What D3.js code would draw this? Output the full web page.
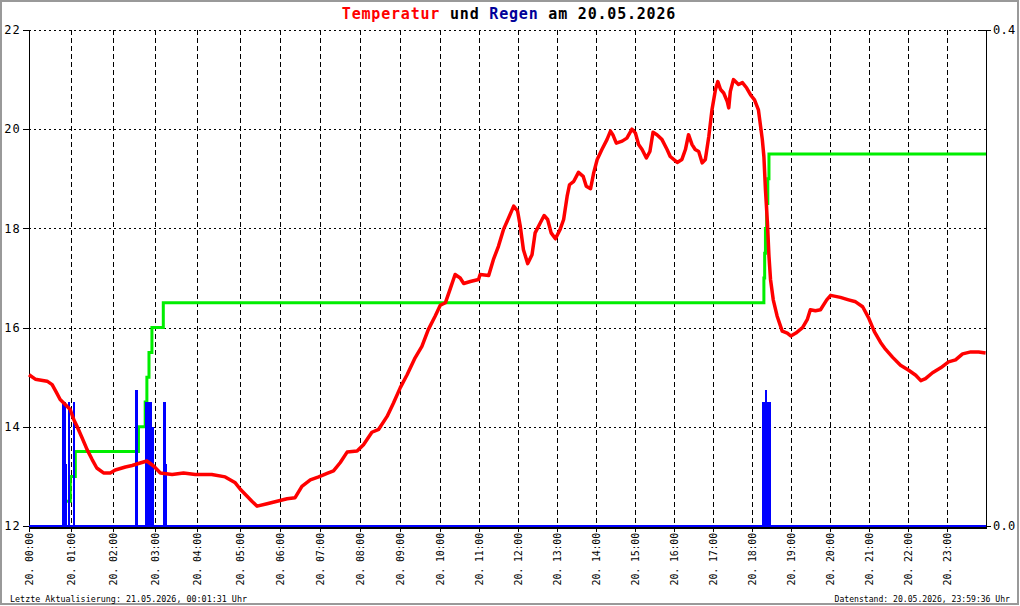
<!DOCTYPE html>
<html>
<head>
<meta charset="utf-8">
<script src="https://cdn.jsdelivr.net/npm/d3@7"></script>
<style>
  body { margin: 0; background: #fff; }
  svg { display: block; }
  text { font-family: "DejaVu Sans Mono", "Liberation Mono", monospace; fill: #000; }
</style>
</head>
<body>
<svg id="chart" width="1020" height="606"></svg>
<script>
// ---- data (hours since 00:00, °C / mm) ----
var tempHours = [0.00,0.15,0.43,0.55,0.66,0.74,0.86,0.98,1.06,1.14,1.26,1.38,1.50,1.61,1.77,1.93,2.05,2.29,2.45,2.60,
  2.80,2.96,3.12,3.40,3.67,3.95,4.34,4.66,4.90,5.02,5.19,5.31,5.44,5.69,5.94,6.19,6.39,6.56,6.77,6.98,
  7.19,7.35,7.52,7.69,7.94,8.10,8.31,8.48,8.69,8.85,9.02,9.19,9.39,9.56,9.72,9.89,10.02,10.15,10.27,10.40,
  10.53,10.62,10.79,11.00,11.04,11.26,11.38,11.51,11.64,11.77,11.90,12.00,12.07,12.15,12.26,12.37,12.45,12.58,12.68,12.77,
  12.86,12.97,13.09,13.18,13.27,13.33,13.44,13.56,13.68,13.76,13.87,13.95,14.04,14.16,14.29,14.38,14.44,14.53,14.68,14.80,
  14.93,15.02,15.10,15.19,15.30,15.39,15.47,15.57,15.70,15.83,15.91,16.09,16.21,16.30,16.38,16.47,16.55,16.64,16.73,16.81,
  16.90,16.98,17.07,17.13,17.20,17.28,17.37,17.41,17.45,17.53,17.66,17.76,17.87,17.97,18.07,18.17,18.27,18.31,18.35,18.40,
  18.44,18.48,18.55,18.65,18.78,18.91,19.00,19.13,19.30,19.42,19.50,19.63,19.76,19.92,20.02,20.27,20.48,20.66,20.84,20.99,
  21.14,21.30,21.43,21.61,21.81,22.02,22.20,22.33,22.45,22.63,22.84,23.04,23.22,23.40,23.61,23.81,23.99];
var tempValues = [15.05,14.96,14.92,14.85,14.68,14.55,14.45,14.35,14.15,14.01,13.78,13.54,13.34,13.17,13.07,13.07,13.13,13.19,13.22,13.26,
  13.31,13.21,13.07,13.04,13.07,13.04,13.04,12.99,12.87,12.74,12.60,12.50,12.40,12.45,12.50,12.55,12.57,12.80,12.93,12.99,
  13.06,13.11,13.28,13.49,13.51,13.64,13.89,13.95,14.21,14.48,14.79,15.05,15.39,15.62,15.96,16.23,16.45,16.50,16.77,17.07,
  17.00,16.89,16.93,16.97,17.07,17.05,17.37,17.64,17.98,18.21,18.45,18.35,18.04,17.57,17.29,17.47,17.91,18.11,18.26,18.18,
  17.91,17.79,17.98,18.18,18.65,18.88,18.95,19.13,19.05,18.85,18.80,19.12,19.39,19.59,19.79,19.96,19.89,19.72,19.76,19.82,
  20.00,19.92,19.69,19.59,19.42,19.55,19.94,19.89,19.79,19.59,19.45,19.33,19.39,19.59,19.89,19.69,19.59,19.55,19.32,19.39,
  19.86,20.39,20.80,20.96,20.80,20.73,20.56,20.43,20.76,21.00,20.90,20.94,20.83,20.69,20.59,20.39,19.79,19.45,18.78,18.12,
  17.44,16.97,16.56,16.23,15.93,15.89,15.83,15.89,16.00,16.16,16.36,16.34,16.36,16.56,16.65,16.61,16.56,16.52,16.42,16.20,
  15.92,15.70,15.56,15.40,15.24,15.14,15.04,14.93,14.97,15.09,15.19,15.31,15.35,15.47,15.51,15.51,15.49];

// cumulative rain (step line)
var rainSumHours  = [0, 0.86, 0.98, 1.10, 2.60, 2.76, 2.80, 2.85, 2.92, 3.19, 18.31, 18.33, 18.35, 18.38, 18.41, 18.44, 24];
var rainSumValues = [0, 0.02, 0.04, 0.06, 0.08, 0.10, 0.12, 0.14, 0.16, 0.18, 0.20, 0.22, 0.24, 0.26, 0.28, 0.30, 0.30];

// rain bars: start hour, end hour, value
var rainBarStart  = [0.79, 0.88, 0.92, 1.035, 2.52, 2.76, 2.92, 3.19, 3.25, 18.27, 18.33, 18.40];
var rainBarEnd    = [0.88, 0.91, 0.98, 1.10, 2.60, 2.92, 2.98, 3.25, 3.27, 18.33, 18.40, 18.48];
var rainBarValues = [0.10, 0.05, 0.10, 0.10, 0.11, 0.10, 0.08, 0.10, 0.05, 0.10, 0.11, 0.10];

var tempTicks = [12, 14, 16, 18, 20, 22];
var rainTicks = [0.0, 0.4];
var rainTickLabels = ["0.0", "0.4"];
var hourLabels = ["20. 00:00","20. 01:00","20. 02:00","20. 03:00","20. 04:00","20. 05:00","20. 06:00","20. 07:00",
  "20. 08:00","20. 09:00","20. 10:00","20. 11:00","20. 12:00","20. 13:00","20. 14:00","20. 15:00",
  "20. 16:00","20. 17:00","20. 18:00","20. 19:00","20. 20:00","20. 21:00","20. 22:00","20. 23:00"];

(function () {
  "use strict";
  var svg = d3.select("#chart");
  var L = 29, R = 986, T = 30, B = 526;

  // the time axis of the source is not evenly spaced: early hours are a little wider
  var x = d3.scaleLinear().domain([0, 5, 10, 24]).range([L, 239.5, 439.5, R]);
  var yT = d3.scaleLinear().domain([12, 22]).range([B, T]);
  var yR = d3.scaleLinear().domain([0, 0.4]).range([B, T]);

  svg.append("rect").attr("x", 0).attr("y", 0).attr("width", 1020).attr("height", 606).attr("fill", "#fff");
  svg.append("rect").attr("x", 1).attr("y", 1).attr("width", 1017).attr("height", 603)
    .attr("fill", "none").attr("stroke", "#999").attr("stroke-width", 2);

  // the zero level of the rain sum sits behind the axis in the source
  svg.append("defs").append("clipPath").attr("id", "above-axis")
    .append("rect").attr("x", L).attr("y", T - 5).attr("width", R - L).attr("height", B - 2 - (T - 5));

  /* grid */
  var grid = svg.append("g").attr("shape-rendering", "crispEdges").attr("stroke", "#000").attr("stroke-width", 1);
  grid.selectAll("line.h").data(tempTicks.filter(function (t) { return t > 12; }))
    .enter().append("line").attr("class", "h")
    .attr("x1", L).attr("x2", R)
    .attr("y1", function (d) { return Math.round(yT(d)) + 0.5; })
    .attr("y2", function (d) { return Math.round(yT(d)) + 0.5; })
    .attr("stroke-dasharray", "2,3");
  grid.selectAll("line.v").data(d3.range(1, 24))
    .enter().append("line").attr("class", "v")
    .attr("x1", function (d) { return Math.round(x(d)) + 0.5; })
    .attr("x2", function (d) { return Math.round(x(d)) + 0.5; })
    .attr("y1", T).attr("y2", B)
    .attr("stroke-dasharray", "5,3");

  /* cumulative rain (under the bars, like the source) */
  var sum = rainSumValues.map(function (v, i) { return [rainSumHours[i], v]; });
  svg.append("path").datum(sum)
    .attr("clip-path", "url(#above-axis)")
    .attr("fill", "none").attr("stroke", "#00ee00").attr("stroke-width", 3)
    .attr("d", d3.line().curve(d3.curveStepAfter)
      .x(function (d) { return x(d[0]); })
      .y(function (d) { return yR(d[1]); }));

  /* rain bars */
  var bars = rainBarValues.map(function (v, i) { return { a: rainBarStart[i], b: rainBarEnd[i], v: v }; });
  svg.append("g").attr("shape-rendering", "crispEdges").selectAll("rect").data(bars).enter().append("rect")
    .attr("x", function (d) { return Math.round(x(d.a)); })
    .attr("width", function (d) { return Math.max(1, Math.round(x(d.b)) - Math.round(x(d.a))); })
    .attr("y", function (d) { return Math.round(yR(d.v)); })
    .attr("height", function (d) { return B - Math.round(yR(d.v)); })
    .attr("fill", "#0000ff");

  /* axes */
  var ax = svg.append("g").attr("shape-rendering", "crispEdges").attr("stroke", "#000").attr("stroke-width", 1);
  ax.append("line").attr("x1", L + 0.5).attr("x2", L + 0.5).attr("y1", T).attr("y2", B);
  ax.append("line").attr("x1", R + 0.5).attr("x2", R + 0.5).attr("y1", T).attr("y2", B);
  ax.selectAll("line.lt").data(tempTicks).enter().append("line").attr("class", "lt")
    .attr("x1", L - 6).attr("x2", L + 2)
    .attr("y1", function (d) { return Math.round(yT(d)) + 0.5; })
    .attr("y2", function (d) { return Math.round(yT(d)) + 0.5; });
  ax.selectAll("line.rt").data(rainTicks).enter().append("line").attr("class", "rt")
    .attr("x1", R - 8).attr("x2", R + 5)
    .attr("y1", function (d) { return Math.round(yR(d)) + 0.5; })
    .attr("y2", function (d) { return Math.round(yR(d)) + 0.5; });
  ax.selectAll("line.bt").data(d3.range(0, 24)).enter().append("line").attr("class", "bt")
    .attr("x1", function (d) { return Math.round(x(d)) + 0.5; })
    .attr("x2", function (d) { return Math.round(x(d)) + 0.5; })
    .attr("y1", B).attr("y2", B + 6);
  ax.append("line").attr("x1", L).attr("x2", R + 1).attr("y1", B + 1.5).attr("y2", B + 1.5).attr("stroke-width", 2);

  // rain zero line
  svg.append("line").attr("shape-rendering", "crispEdges")
    .attr("x1", L).attr("x2", R).attr("y1", yR(0) - 0.5).attr("y2", yR(0) - 0.5)
    .attr("stroke", "#0000ff").attr("stroke-width", 2);

  /* temperature */
  var temp = tempValues.map(function (v, i) { return [tempHours[i], v]; });
  svg.append("path").datum(temp)
    .attr("fill", "none").attr("stroke", "#ff0000").attr("stroke-width", 3.5)
    .attr("stroke-linejoin", "round")
    .attr("d", d3.line()
      .x(function (d) { return x(d[0]); })
      .y(function (d) { return yT(d[1]); }));

  /* labels */
  svg.selectAll("text.lt").data(tempTicks).enter().append("text").attr("class", "lt")
    .attr("x", 21).attr("y", function (d) { return yT(d); }).attr("dy", "0.35em")
    .attr("text-anchor", "end").attr("font-size", 12).attr("letter-spacing", 1.2)
    .text(function (d) { return d; });
  svg.selectAll("text.rt").data(rainTicks).enter().append("text").attr("class", "rt")
    .attr("x", 993).attr("y", function (d) { return yR(d); }).attr("dy", "0.35em")
    .attr("font-size", 12).attr("letter-spacing", 0.3)
    .text(function (d, i) { return rainTickLabels[i]; });
  svg.selectAll("text.bt").data(hourLabels).enter().append("text").attr("class", "bt")
    .attr("transform", function (d, i) { return "translate(" + (x(i) + 4) + "," + (B + 7) + ") rotate(-90)"; })
    .attr("text-anchor", "end").attr("font-size", 10).attr("letter-spacing", -0.2)
    .text(function (d) { return d; });

  var title = svg.append("text").attr("x", 509).attr("y", 19).attr("text-anchor", "middle")
    .attr("font-size", 15).attr("font-weight", "bold").attr("letter-spacing", 0.8);
  title.append("tspan").attr("fill", "#ff0000").text("Temperatur");
  title.append("tspan").text(" und ");
  title.append("tspan").attr("fill", "#000099").text("Regen");
  title.append("tspan").text(" am 20.05.2026");

  svg.append("text").attr("x", 10).attr("y", 602).attr("font-size", 8.4)
    .text("Letzte Aktualisierung: 21.05.2026, 00:01:31 Uhr");
  svg.append("text").attr("x", 1010).attr("y", 602).attr("text-anchor", "end").attr("font-size", 8.1)
    .text("Datenstand: 20.05.2026, 23:59:36 Uhr");
})();
</script>
</body>
</html>
